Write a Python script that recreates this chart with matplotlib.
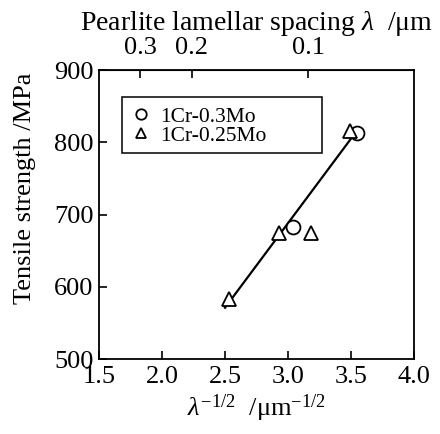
import numpy as np
import matplotlib
matplotlib.use('Agg')
import matplotlib.pyplot as plt
from matplotlib.patches import Rectangle

plt.rcParams['font.family'] = ['Liberation Serif', 'DejaVu Serif']
plt.rcParams['mathtext.fontset'] = 'custom'
plt.rcParams['mathtext.rm'] = 'Liberation Serif'
plt.rcParams['mathtext.it'] = 'Liberation Serif:italic'

# data
x_cr03 = [3.04, 3.55]
y_cr03 = [683, 813]
x_cr025 = [2.53, 2.93, 3.18, 3.49]
y_cr025 = [583, 675, 675, 816]
fit_x = [2.50, 3.53]
fit_y = [571, 812]
top_ticks = [0.3, 0.2, 0.1]

fig = plt.figure(figsize=(4.40, 4.34), dpi=100)
ax = fig.add_axes([99/440, 1-359/434, 315/440, 289/434])

ax.plot(fit_x, fit_y, color='black', lw=1.6, zorder=2)
ax.plot(x_cr03, y_cr03, 'o', ms=10, mfc='white', mec='black', mew=1.3,
        ls='none', label='1Cr-0.3Mo', zorder=3)
ax.plot(x_cr025, y_cr025, '^', ms=10, mfc='white', mec='black', mew=1.3,
        ls='none', label='1Cr-0.25Mo', zorder=3)

ax.set_xlim(1.5, 4.0)
ax.set_ylim(500, 900)
ax.set_xticks([1.5, 2.0, 2.5, 3.0, 3.5, 4.0])
ax.set_xticklabels(['1.5', '2.0', '2.5', '3.0', '3.5', '4.0'])
ax.set_yticks([500, 600, 700, 800, 900])
ax.tick_params(direction='in', length=6, width=1.2, labelsize=19,
               top=False, right=False)
ax.tick_params(axis='x', pad=5)
ax.tick_params(axis='y', pad=4)
for s in ax.spines.values():
    s.set_linewidth(1.3)

ax.set_xlabel(r'$\lambda^{\mathit{-1/2}}$  /$\mathrm{\mu}$m$^{\mathrm{-1/2}}$',
              fontsize=19, labelpad=3)
ax.set_ylabel('Tensile strength /MPa', fontsize=19)
ax.yaxis.set_label_coords(-0.20, 0.59)

sec = ax.secondary_xaxis('top', functions=(lambda x: 1/np.maximum(x, 1e-3)**2,
                                           lambda l: 1/np.sqrt(np.maximum(l, 1e-6))))
sec.set_xticks(top_ticks)
sec.set_xticklabels(['0.3', '0.2', '0.1'])
sec.tick_params(direction='in', length=6, width=1.2, labelsize=19, pad=8)
sec.set_xlabel(r'Pearlite lamellar spacing $\lambda$  /$\mathrm{\mu}$m',
               fontsize=20, labelpad=5)

# legend box drawn separately (wide right margin as in the original)
ax.add_patch(Rectangle((0.073, 0.713), 0.635, 0.194, transform=ax.transAxes,
                       fill=False, edgecolor='black', lw=1.1, zorder=4))
leg = ax.legend(loc='center left', bbox_to_anchor=(0.098, 0.806), fontsize=15.5,
                frameon=False, handletextpad=0.4, borderpad=0,
                labelspacing=-0.05, handlelength=1.0, borderaxespad=0,
                markerscale=0.75)

fig.savefig('out.png', dpi=100)
